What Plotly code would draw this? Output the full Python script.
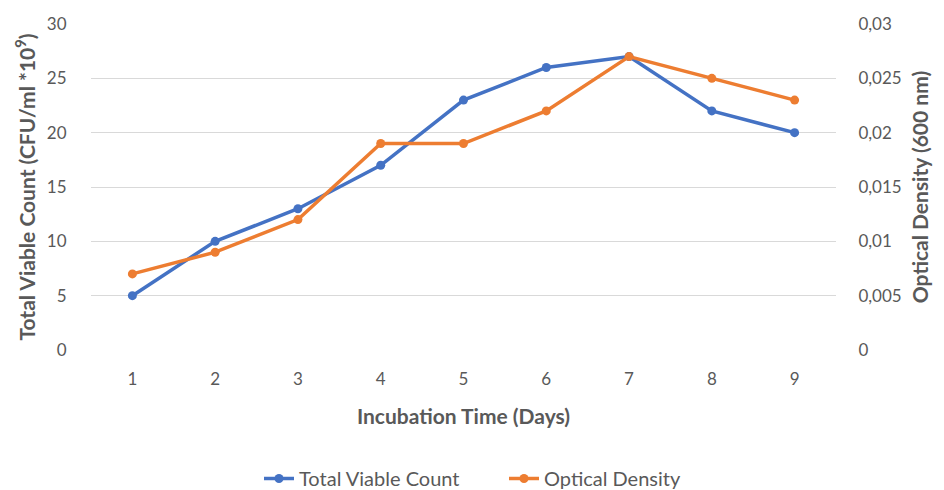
import plotly.graph_objects as go

days = [1, 2, 3, 4, 5, 6, 7, 8, 9]
total_viable_count = [5, 10, 13, 17, 23, 26, 27, 22, 20]
optical_density = [0.007, 0.009, 0.012, 0.019, 0.019, 0.022, 0.027, 0.025, 0.023]
y_ticks_left = [0, 5, 10, 15, 20, 25, 30]
y_ticks_right = [0, 0.005, 0.01, 0.015, 0.02, 0.025, 0.03]

FONT = "Lato"
GREY = "#595959"

fig = go.Figure()
fig.add_trace(go.Scatter(
    x=days, y=total_viable_count, name="Total Viable Count",
    mode="lines+markers",
    line=dict(color="#4472C4", width=3.5),
    marker=dict(color="#4472C4", size=9),
))
fig.add_trace(go.Scatter(
    x=days, y=optical_density, name="Optical Density",
    mode="lines+markers", yaxis="y2",
    line=dict(color="#ED7D31", width=3.5),
    marker=dict(color="#ED7D31", size=9),
))

fig.update_layout(
    width=944, height=490,
    margin=dict(l=83, r=116, t=16, b=148),
    paper_bgcolor="white", plot_bgcolor="white",
    separators=", ",
    font=dict(family=FONT, color=GREY, size=17),
    showlegend=True,
    legend=dict(orientation="h", x=0.2255, xanchor="left", xref="paper",
                y=0, yanchor="bottom", yref="container",
                font=dict(size=20, color=GREY),
                entrywidth=200, entrywidthmode="pixels", tracegroupgap=0),
    xaxis=dict(
        range=[0.5, 9.5], tickvals=days, ticktext=[str(d) for d in days],
        showgrid=False, zeroline=False, showline=False, automargin=False,
        ticks="outside", ticklen=14, tickcolor="rgba(0,0,0,0)",
        tickfont=dict(size=17, color=GREY),
        title=dict(text="<b>Incubation Time (Days)</b>", font=dict(size=21, color=GREY), standoff=20),
    ),
    yaxis=dict(
        range=[0, 30], tickvals=y_ticks_left,
        showgrid=True, gridcolor="#D9D9D9", gridwidth=1.3, zeroline=False, showline=False, automargin=False,
        ticks="outside", ticklen=20, tickcolor="rgba(0,0,0,0)",
        tickfont=dict(size=17, color=GREY),
        title=dict(text="<b>Total Viable Count (CFU/ml *10<sup>9</sup>)</b>", font=dict(size=21, color=GREY), standoff=5),
    ),
    yaxis2=dict(
        range=[0, 0.03], tickvals=y_ticks_right, overlaying="y", side="right",
        showgrid=False, zeroline=False, showline=False, automargin=False,
        ticks="outside", ticklen=18, tickcolor="rgba(0,0,0,0)",
        tickfont=dict(size=17, color=GREY),
        title=dict(text="<b>Optical Density (600 nm)</b>", font=dict(size=21, color=GREY), standoff=12),
    ),
)

fig.write_html("out.html")
